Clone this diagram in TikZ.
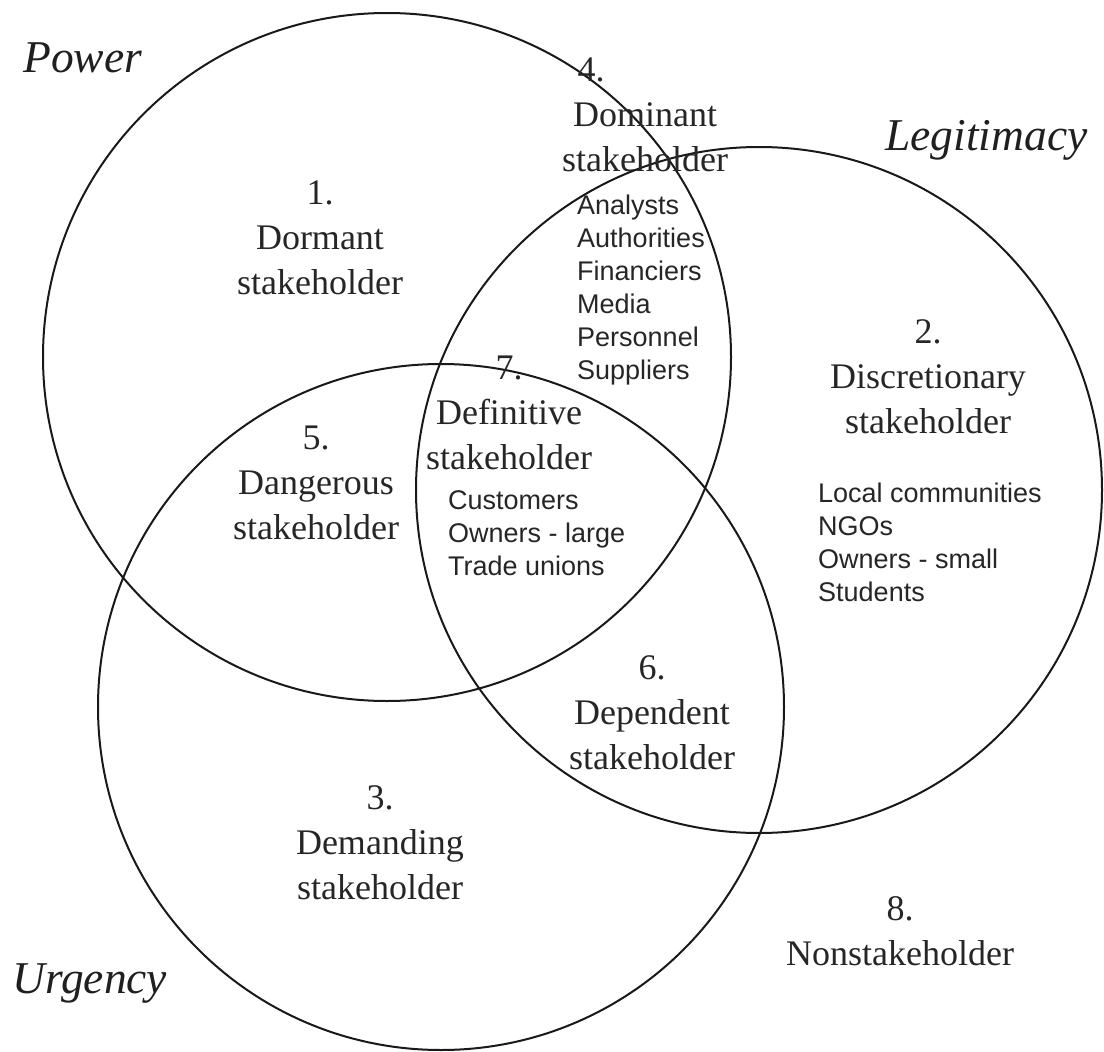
\documentclass[tikz,border=0pt]{standalone}
\usepackage{fontspec}
\setmainfont{Liberation Serif}
\newfontfamily\listfont{Liberation Sans}
\begin{document}
\begin{tikzpicture}[x=1pt,y=-1pt,
  ring/.style={draw=black!90, line width=2pt},
  title/.style={font=\fontsize{45.5}{50}\selectfont\itshape, inner sep=0pt, anchor=base west, text=black!88},
  kind/.style={font=\fontsize{36}{45}\selectfont, align=center, inner sep=0pt, text=black!85},
  members/.style={font=\listfont\fontsize{27}{33}\selectfont, align=left, anchor=west, inner sep=0pt, text=black!85}]
\useasboundingbox (0,0) rectangle (1104,1052);
% the three attribute circles
\draw[ring] (387,357) circle[radius=344pt];
\draw[ring] (759,490) circle[radius=343pt];
\draw[ring] (441,707) circle[radius=343pt];
% attribute names
\node[title] (power) at (23,72) {Power};
\node[title] (legitimacy) at (885,150) {Legitimacy};
\node[title] (urgency) at (12,993) {Urgency};
% stakeholder classes
\node[kind] (dormant) at (320,238) {1.\\Dormant\\stakeholder};
\node[kind] (dominant) at (645,115) {4.\rule{108pt}{0pt}\\Dominant\\stakeholder};
\node[kind] (discretionary) at (928,377) {2.\\Discretionary\\stakeholder};
\node[kind] (definitive) at (509,413) {7.\\Definitive\\stakeholder};
\node[kind] (dangerous) at (316,483) {5.\\Dangerous\\stakeholder};
\node[kind] (dependent) at (652,713) {6.\\Dependent\\stakeholder};
\node[kind] (demanding) at (380,843) {3.\\Demanding\\stakeholder};
\node[kind] (non) at (900,931) {8.\\Nonstakeholder};
% example groups
\node[members] (grpdominant) at (577,290) {Analysts\\Authorities\\Financiers\\Media\\Personnel\\Suppliers};
\node[members] (grpdefinitive) at (448,533) {Customers\\Owners - large\\Trade unions};
\node[members] (grpdiscretionary) at (818,542) {Local communities\\NGOs\\Owners - small\\Students};
\end{tikzpicture}
\end{document}
